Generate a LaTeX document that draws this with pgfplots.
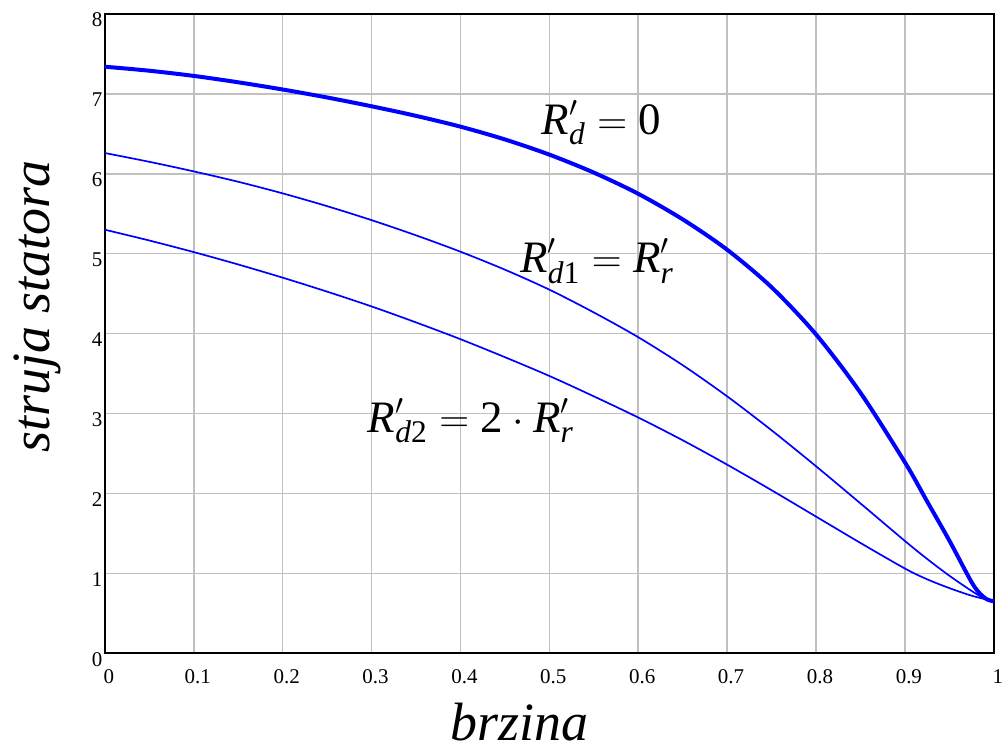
\documentclass[border=0pt]{standalone}
\usepackage{pgfplots}
\pgfplotsset{compat=1.18}
\usepackage{amsmath}
\usepackage{fontspec}
\setmainfont{Liberation Serif}

\definecolor{gridgray}{RGB}{192,192,192}

\begin{document}
\begin{tikzpicture}
\begin{axis}[
    scale only axis,
    width=445pt, height=320pt,
    xmin=0, xmax=1,
    ymin=0, ymax=8,
    xtick={0,0.1,...,1},
    ytick={0,1,...,8},
    major tick length=0pt,
    grid=major,
    major grid style={gridgray, line width=0.75pt},
    axis line style={black, line width=0.8pt},
    /pgf/number format/assume math mode=true,
    tick label style={font=\fontsize{10.5}{12}\selectfont},
    xticklabel style={anchor=north, inner sep=0pt, yshift=-8pt, xshift=2pt},
    yticklabel style={anchor=east, inner sep=1pt, yshift=-3pt},
    xlabel={\textit{brzina}},
    ylabel={\textit{struja statora}},
    label style={font=\fontsize{27}{30}\selectfont},
    xlabel style={at={(axis description cs:0.466,0)}, anchor=base, yshift=-43.5pt},
    ylabel style={at={(axis description cs:-0.0618,0.542)}, anchor=base},
]

% R'_d = 0
\addplot[blue, line width=2pt, smooth, tension=0.5] coordinates {
(0,7.34) (0.05,7.29) (0.1,7.225) (0.15,7.145) (0.2,7.055) (0.25,6.955) (0.3,6.845)
(0.35,6.725) (0.4,6.59) (0.45,6.43) (0.5,6.24) (0.55,6.015) (0.6,5.75) (0.65,5.43)
(0.7,5.05) (0.75,4.58) (0.8,3.99) (0.85,3.26) (0.9,2.39) (0.925,1.90) (0.95,1.41)
(0.975,0.89) (0.985,0.74) (0.993,0.67) (1,0.65)
};
% R'_d1 = R'_r
\addplot[blue, line width=0.85pt, smooth, tension=0.5] coordinates {
(0,6.26) (0.05,6.15) (0.1,6.03) (0.15,5.90) (0.2,5.755) (0.25,5.595) (0.3,5.42)
(0.35,5.23) (0.4,5.025) (0.45,4.80) (0.5,4.55) (0.55,4.265) (0.6,3.955) (0.65,3.605)
(0.7,3.215) (0.75,2.79) (0.8,2.34) (0.85,1.875) (0.9,1.405) (0.925,1.18) (0.95,0.97)
(0.975,0.78) (0.99,0.68) (1,0.65)
};
% R'_d2 = 2 R'_r
\addplot[blue, line width=0.85pt, smooth, tension=0.5] coordinates {
(0,5.30) (0.05,5.165) (0.1,5.02) (0.15,4.865) (0.2,4.70) (0.25,4.525) (0.3,4.34)
(0.35,4.14) (0.4,3.93) (0.45,3.705) (0.5,3.47) (0.55,3.215) (0.6,2.95) (0.65,2.665)
(0.7,2.36) (0.75,2.04) (0.8,1.71) (0.85,1.38) (0.9,1.06) (0.925,0.925) (0.95,0.815)
(0.975,0.72) (1,0.65)
};

\node[anchor=base west, inner sep=0pt, font=\fontsize{22.5}{26}\selectfont]
  at (axis cs:0.491,6.49) {$\textit{R}'_{\textit{d}}=\text{0}$};
\node[anchor=base west, inner sep=0pt, font=\fontsize{22.5}{26}\selectfont]
  at (axis cs:0.467,4.76) {$\textit{R}'_{\textit{d}\text{1}}=\textit{R}'_{\textit{r}}$};
\node[anchor=base west, inner sep=0pt, font=\fontsize{22.5}{26}\selectfont]
  at (axis cs:0.2955,2.76) {$\textit{R}'_{\textit{d}\text{2}}=\text{2}\cdot\textit{R}'_{\textit{r}}$};
\end{axis}
\path (-52.5pt,-48pt) rectangle (449pt,327pt);
\end{tikzpicture}
\end{document}
